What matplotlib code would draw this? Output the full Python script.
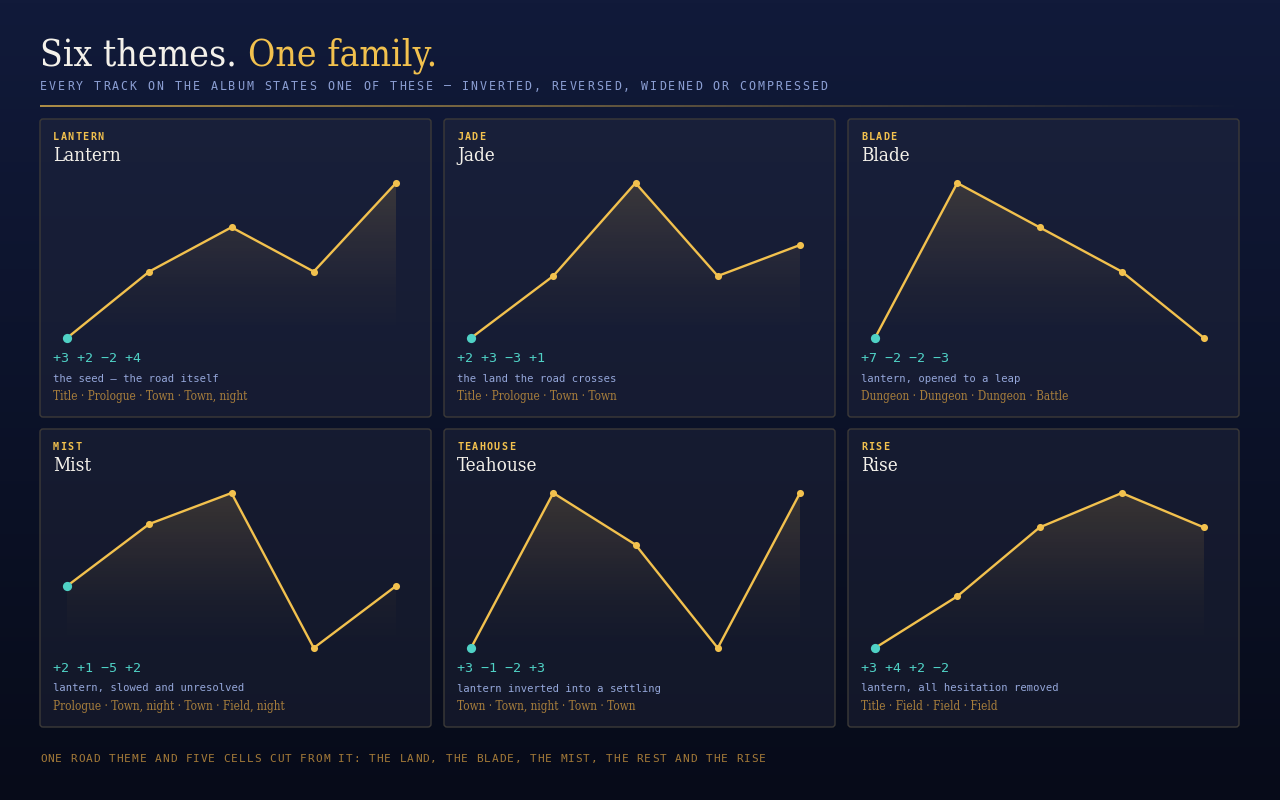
import numpy as np
import matplotlib
matplotlib.use("Agg")
import matplotlib.pyplot as plt
from matplotlib.patches import FancyBboxPatch, Polygon
from matplotlib.colors import LinearSegmentedColormap, to_rgb
from matplotlib import font_manager as fm

# ---------------- data ----------------
keys = ["LANTERN", "JADE", "BLADE", "MIST", "TEAHOUSE", "RISE"]
names = ["Lantern", "Jade", "Blade", "Mist", "Teahouse", "Rise"]
intervals = [
    [3, 2, -2, 4],
    [2, 3, -3, 1],
    [7, -2, -2, -3],
    [2, 1, -5, 2],
    [3, -1, -2, 3],
    [3, 4, 2, -2],
]
notes = [
    "the seed \u2014 the road itself",
    "the land the road crosses",
    "lantern, opened to a leap",
    "lantern, slowed and unresolved",
    "lantern inverted into a settling",
    "lantern, all hesitation removed",
]
scenes = [
    ["Title", "Prologue", "Town", "Town, night"],
    ["Title", "Prologue", "Town", "Town"],
    ["Dungeon", "Dungeon", "Dungeon", "Battle"],
    ["Prologue", "Town, night", "Town", "Field, night"],
    ["Town", "Town, night", "Town", "Town"],
    ["Title", "Field", "Field", "Field"],
]
title_a = "Six themes. "
title_b = "One family."
subtitle = "EVERY TRACK ON THE ALBUM STATES ONE OF THESE \u2014 INVERTED, REVERSED, WIDENED OR COMPRESSED"
footer = "ONE ROAD THEME AND FIVE CELLS CUT FROM IT: THE LAND, THE BLADE, THE MIST, THE REST AND THE RISE"

# ---------------- style ----------------
GOLD = "#f2c14e"
TEAL = "#4fd1c5"
WHITE = "#f4f1ea"
SUB = "#8c9fd4"
NOTE = "#95a7da"
SCENE = "#a67d3c"
FOOT = "#a47a38"
MONO = ["DejaVu Sans Mono"]

serif_path = None
for f in fm.fontManager.ttflist:
    if "SerifCondensed.ttf" in f.fname.replace("-", ""):
        serif_path = f.fname
        break
if serif_path:
    SERIF_FP = lambda size: fm.FontProperties(fname=serif_path, size=size)
else:
    SERIF_FP = lambda size: fm.FontProperties(family="DejaVu Serif", stretch="condensed", size=size)

W, H = 1280, 800
fig = plt.figure(figsize=(W / 100, H / 100), dpi=100)

bg = fig.add_axes([0, 0, 1, 1])
bg.set_xlim(0, W)
bg.set_ylim(H, 0)
bg.axis("off")
top_c = np.array(to_rgb("#111a3a"))
bot_c = np.array(to_rgb("#070b19"))
t = np.linspace(0, 1, 256)[:, None]
grad = top_c[None, None, :] * (1 - t[..., None]) + bot_c[None, None, :] * t[..., None]
grad = np.repeat(grad, 2, axis=1)
bg.imshow(grad, extent=(0, W, H, 0), aspect="auto", zorder=0)


def spaced(ax, x, y, s, adv, **kw):
    for i, ch in enumerate(s):
        ax.text(x + i * adv, y, ch, ha="left", va="center", **kw)


tA = bg.text(40, 65, title_a, fontproperties=SERIF_FP(26.7), color=WHITE, va="baseline", ha="left")
fig.canvas.draw()
bb = tA.get_window_extent()
bg.text(40 + bb.width, 65, title_b, fontproperties=SERIF_FP(26.7), color=GOLD, va="baseline", ha="left")

spaced(bg, 40, 86, subtitle, 8.97, fontsize=8.4, family=MONO, color=SUB)

xs = np.linspace(40, 1240, 400)
for i in range(len(xs) - 1):
    a = max(0.0, 1 - (xs[i] - 40) / 1200)
    bg.plot(xs[i:i + 2], [105.5, 105.5], color=GOLD, alpha=0.9 * a, lw=1.1, solid_capstyle="butt")

px0 = [40, 444, 848]
py0 = [119, 429]
pw, ph = 391, 298
gold_rgb = (0.95, 0.74, 0.30)
fill_cmap = LinearSegmentedColormap.from_list(
    "f", [(0.0, gold_rgb + (0.0,)), (0.3, gold_rgb + (0.03,)), (1.0, gold_rgb + (0.16,))])

for k in range(6):
    r, c = divmod(k, 3)
    x0, y0 = px0[c], py0[r]
    panel = FancyBboxPatch((x0, y0), pw, ph, boxstyle="round,pad=0,rounding_size=3",
                           facecolor="#2c3045", alpha=0.33, edgecolor="none", zorder=1)
    bg.add_patch(panel)
    border = FancyBboxPatch((x0, y0), pw, ph, boxstyle="round,pad=0,rounding_size=3",
                            facecolor="none", edgecolor="#3c3a38", lw=1.0, zorder=2)
    bg.add_patch(border)

    spaced(bg, x0 + 13, y0 + 17.5, keys[k], 7.4, fontsize=7.3, family=MONO, color=GOLD, fontweight="bold")
    bg.text(x0 + 13, y0 + 42, names[k], fontproperties=SERIF_FP(13.5), color=WHITE, va="baseline", ha="left")
    bg.text(x0 + 13, y0 + 239.5, " ".join(("+%d" % v if v > 0 else "\u2212%d" % -v) for v in intervals[k]),
            fontsize=9.6, family=MONO, color=TEAL, va="center", ha="left")
    bg.text(x0 + 13, y0 + 259.5, notes[k], fontsize=7.6, family=MONO, color=NOTE, va="center", ha="left")
    bg.text(x0 + 13, y0 + 281, " \u00b7 ".join(scenes[k]), fontproperties=SERIF_FP(8.5), color=SCENE,
            va="baseline", ha="left")

    vals = np.concatenate([[0], np.cumsum(intervals[k])])
    lx0, lx1 = x0 + 27, x0 + 356
    ly0, ly1 = y0 + 64, y0 + 219
    ax = fig.add_axes([lx0 / W, 1 - ly1 / H, (lx1 - lx0) / W, (ly1 - ly0) / H])
    ax.patch.set_alpha(0)
    ax.axis("off")
    vmin, vmax = vals.min(), vals.max()
    ax.set_xlim(0, len(vals) - 1)
    ax.set_ylim(vmin, vmax)
    xi = np.arange(len(vals))
    g = np.linspace(0, 1, 200)[:, None]
    im = ax.imshow(g, extent=(0, len(vals) - 1, vmin, vmax), origin="lower", aspect="auto",
                   cmap=fill_cmap, zorder=1)
    poly = Polygon(np.column_stack([np.r_[xi, xi[-1], xi[0]], np.r_[vals, vmin, vmin]]),
                   closed=True, facecolor="none", edgecolor="none", transform=ax.transData)
    ax.add_patch(poly)
    im.set_clip_path(poly)
    ax.plot(xi, vals, color=GOLD, lw=1.7, zorder=3, clip_on=False, solid_joinstyle="round")
    ax.scatter(xi[1:], vals[1:], s=26, color=GOLD, zorder=4, clip_on=False, linewidths=0)
    ax.scatter(xi[:1], vals[:1], s=44, color=TEAL, zorder=5, clip_on=False, linewidths=0)

spaced(bg, 40, 759, footer, 7.65, fontsize=8.0, family=MONO, color=FOOT)

fig.savefig("out.png", dpi=100)
